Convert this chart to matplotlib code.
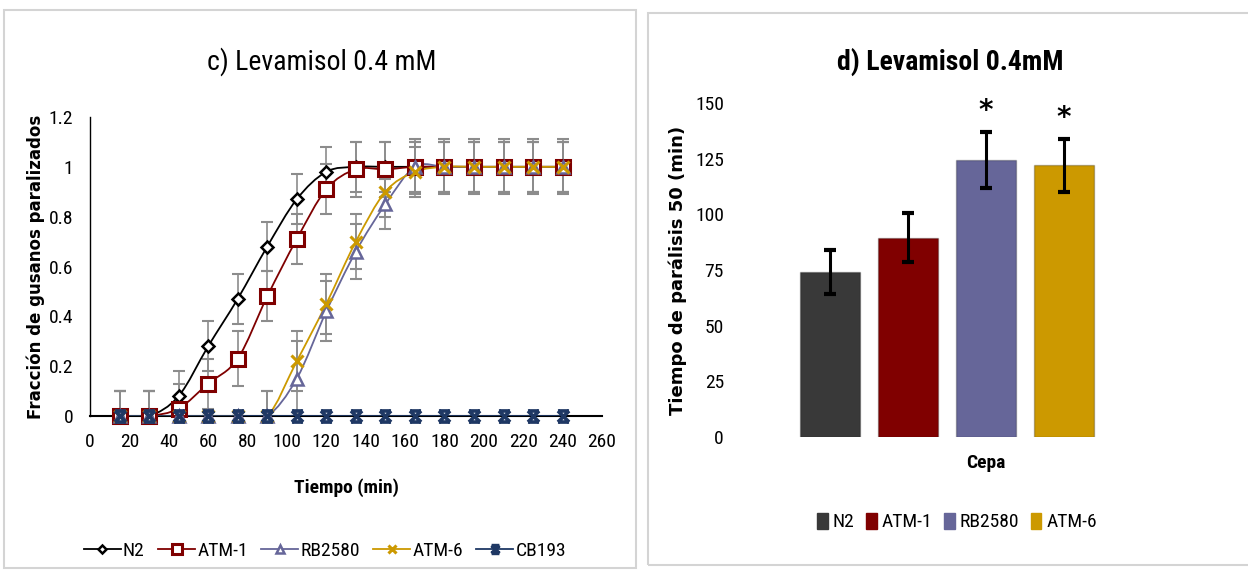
import numpy as np
import matplotlib.pyplot as plt
from matplotlib.path import Path
from matplotlib.patches import PathPatch, Rectangle
from matplotlib.lines import Line2D

# ---- data: c) paralysis curves
tiempo = [15, 30, 45, 60, 75, 90, 105, 120, 135, 150, 165, 180, 195, 210, 225, 240]
n2 = [0, 0, 0.08, 0.28, 0.47, 0.68, 0.87, 0.98, 1, 1, 1, 1, 1, 1, 1, 1]
atm1 = [0, 0, 0.03, 0.13, 0.23, 0.48, 0.71, 0.91, 0.99, 0.99, 1, 1, 1, 1, 1, 1]
rb2580 = [0, 0, 0, 0, 0, 0, 0.15, 0.42, 0.66, 0.85, 1, 1, 1, 1, 1, 1]
atm6 = [0, 0, 0, 0, 0, 0, 0.22, 0.45, 0.70, 0.90, 0.98, 1, 1, 1, 1, 1]
cb193 = [0] * 16
err_n2 = [0.1, 0.1, 0.1, 0.1, 0.1, 0.1, 0.1, 0.1, 0.1, 0.1, 0.1, 0.1, 0.1, 0.1, 0.1, 0.1]
err_atm1 = [0.1, 0.1, 0.1, 0.1, 0.11, 0.1, 0.1, 0.1, 0.11, 0.11, 0.1, 0.1, 0.1, 0.1, 0.1, 0.1]
err_rb = [0.1, 0.1, 0, 0, 0, 0.1, 0.15, 0.12, 0.11, 0.1, 0.11, 0.11, 0.11, 0.11, 0.11, 0.11]
err_atm6 = [0.1, 0.1, 0, 0, 0, 0.1, 0.12, 0.12, 0.11, 0.1, 0.1, 0.1, 0.1, 0.1, 0.1, 0.1]
err_cb = [0] * 16

# ---- data: d) paralysis time 50
cepas = ['N2', 'ATM-1', 'RB2580', 'ATM-6']
tp50 = [74, 89.5, 124.5, 122]
tp50_err = [10, 11, 12.5, 12]
signif = ['', '', '*', '*']

W, H = 1248, 571
fig = plt.figure(figsize=(W / 100, H / 100), dpi=100)
narrow = ['Liberation Sans Narrow', 'Roboto Condensed', 'Open Sans Condensed', 'Lato', 'DejaVu Sans']


def fx(px):
    return px / W


def fy(py):
    return 1 - py / H


# panel frames
fig.add_artist(Rectangle((fx(4), fy(568)), fx(632), fy(10) - fy(568), transform=fig.transFigure,
                         fill=False, edgecolor='#d4d4d4', lw=1.5))
fig.add_artist(Rectangle((fx(648), fy(565)), fx(610), fy(13) - fy(565), transform=fig.transFigure,
                         fill=False, edgecolor='#d4d4d4', lw=1.5))


def smooth_path(x, y):
    # Excel-like smoothed line as cubic bezier segments through the points
    x = np.asarray(x, float)
    y = np.asarray(y, float)
    verts = [(x[0], y[0])]
    codes = [Path.MOVETO]
    n = len(x)
    for i in range(n - 1):
        i0 = max(i - 1, 0)
        i3 = min(i + 2, n - 1)
        c1 = (x[i] + (x[i + 1] - x[i0]) / 6, y[i] + (y[i + 1] - y[i0]) / 6)
        c2 = (x[i + 1] - (x[i3] - x[i]) / 6, y[i + 1] - (y[i3] - y[i]) / 6)
        verts += [c1, c2, (x[i + 1], y[i + 1])]
        codes += [Path.CURVE4] * 3
    return Path(verts, codes)


bowtie = Path([(-1, 1), (1, -1), (-1, -1), (1, 1), (-1, 1), (1, 1), (-1, -1), (1, -1)],
              [Path.MOVETO, Path.LINETO, Path.MOVETO, Path.LINETO,
               Path.MOVETO, Path.LINETO, Path.MOVETO, Path.LINETO])

# ---------------- left chart
ax1 = fig.add_axes([fx(90), fy(416), fx(512), fy(117) - fy(416)])
series = [
    ('N2', n2, err_n2, 'black', 'D', 'white', 6.5, 1.8),
    ('ATM-1', atm1, err_atm1, '#7f0000', 's', 'white', 9.5, 2.2),
    ('RB2580', rb2580, err_rb, '#666699', '^', 'white', 8.5, 1.8),
    ('ATM-6', atm6, err_atm6, '#cc9900', 'x', 'none', 8, 2.2),
    ('CB193', cb193, err_cb, '#1f3864', bowtie, 'none', 8, 2.6),
]
handles = []
for name, vals, err, col, mk, mfc, ms, mew in series:
    ax1.errorbar(tiempo, vals, yerr=err, fmt='none', ecolor='#8c8c8c', elinewidth=1.2,
                 capsize=4, capthick=1.5, zorder=2)
    ax1.add_patch(PathPatch(smooth_path(tiempo, vals), fill=False, edgecolor=col, lw=1.3, zorder=3))
    ax1.plot(tiempo, vals, ls='none', marker=mk, ms=ms, mfc=mfc, mec=col, mew=mew, zorder=4,
             clip_on=False)
    handles.append(Line2D([], [], color=col, lw=1.3, marker=mk, ms=ms * 0.7, mfc=mfc, mec=col,
                          mew=mew))

ax1.set_xlim(0, 260)
ax1.set_ylim(0, 1.2)
ax1.set_xticks(range(0, 261, 20))
ax1.set_yticks([0, 0.2, 0.4, 0.6, 0.8, 1, 1.2])
ax1.set_yticklabels(['0', '0.2', '0.4', '0.6', '0.8', '1', '1.2'])
for s in ['top', 'right']:
    ax1.spines[s].set_visible(False)
ax1.spines['bottom'].set_linewidth(1.5)
ax1.spines['left'].set_linewidth(1.0)
ax1.tick_params(length=0, labelsize=14, pad=12)
for lab in ax1.get_xticklabels() + ax1.get_yticklabels():
    lab.set_family(narrow)
ax1.set_xlabel('Tiempo (min)', family=narrow, fontsize=14, fontweight='bold', labelpad=20)
ax1.set_ylabel('Fracción de gusanos paralizados', fontsize=12, fontweight='bold', labelpad=3)
fig.text(fx(322), fy(62), 'c) Levamisol 0.4 mM', family=narrow, fontsize=20,
         ha='center', va='center')
fig.legend(handles, [s[0] for s in series], loc='center', bbox_to_anchor=(fx(325), fy(551)),
           ncol=5, frameon=False, prop={'family': narrow, 'size': 14}, handlelength=1.9,
           columnspacing=0.7, handletextpad=0.1)

# ---------------- right chart
ax2 = fig.add_axes([fx(735), fy(437), fx(390), fy(103) - fy(437)])
bar_cols = ['#393939', '#800000', '#666699', '#cc9900']
xpos = np.arange(len(cepas))
ax2.bar(xpos, tp50, width=0.77, color=bar_cols, edgecolor=[(0, 0, 0, 0.25)] * 4, lw=1)
ax2.errorbar(xpos, tp50, yerr=tp50_err, fmt='none', ecolor='black', elinewidth=2.2,
             capsize=4.5, capthick=3)
for x, v, e, s in zip(xpos, tp50, tp50_err, signif):
    if s:
        ax2.text(x, v + e + 3, s, ha='center', va='bottom', fontsize=20, fontweight='bold')
ax2.set_xlim(-1.218, 3.782)
ax2.set_ylim(0, 150)
ax2.set_yticks(range(0, 151, 25))
ax2.set_xticks([])
for s in ['top', 'right', 'left', 'bottom']:
    ax2.spines[s].set_visible(False)
ax2.tick_params(length=0, labelsize=14, pad=8)
for lab in ax2.get_yticklabels():
    lab.set_family(narrow)
ax2.set_ylabel('Tiempo de parálisis 50 (min)', fontsize=13, fontweight='bold', labelpad=6)
fig.text(fx(986), fy(463), 'Cepa', family=narrow, fontsize=14, fontweight='bold',
         ha='center', va='center')
fig.text(fx(950), fy(62), 'd) Levamisol 0.4mM', family=narrow, fontsize=20, fontweight='bold',
         ha='center', va='center')
bar_handles = [Rectangle((0, 0), 1, 1, color=c) for c in bar_cols]
fig.legend(bar_handles, cepas, loc='center', bbox_to_anchor=(fx(957), fy(522)), ncol=4,
           frameon=False, prop={'family': narrow, 'size': 14}, handlelength=0.55,
           handleheight=0.9, columnspacing=0.6, handletextpad=0.25)

fig.savefig('out.png', dpi=100)
